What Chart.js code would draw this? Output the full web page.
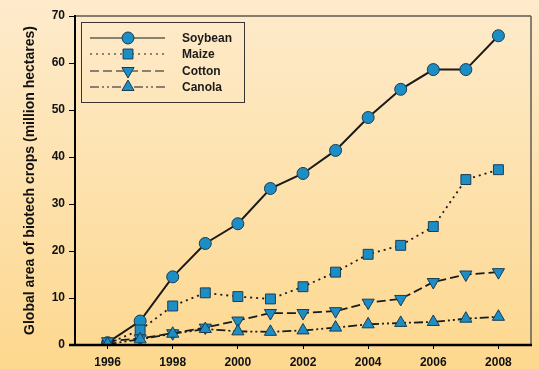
<!DOCTYPE html>
<html>
<head>
<meta charset="utf-8">
<script src="https://cdn.jsdelivr.net/npm/chart.js@4.4.1/dist/chart.umd.min.js"></script>
<style>
  html, body { margin: 0; padding: 0; background: #fde6bb; }
  #wrap { width: 539px; height: 369px; }
</style>
</head>
<body>
<div id="wrap"><canvas id="c" width="539" height="369"></canvas></div>
<script>
// Global area of biotech crops, 1996-2008 (million hectares)
const years = [1996, 1997, 1998, 1999, 2000, 2001, 2002, 2003, 2004, 2005, 2006, 2007, 2008];
const soybean = [0.5, 5.1, 14.5, 21.6, 25.8, 33.3, 36.5, 41.4, 48.4, 54.4, 58.6, 58.6, 65.8];
const maize   = [0.3, 3.2, 8.3, 11.1, 10.3, 9.8, 12.4, 15.5, 19.3, 21.2, 25.2, 35.2, 37.3];
const cotton  = [0.8, 1.4, 2.5, 3.7, 5.2, 6.8, 6.8, 7.2, 9.0, 9.8, 13.4, 15.0, 15.5];
const canola  = [0.2, 1.2, 2.4, 3.4, 2.9, 2.8, 3.1, 3.7, 4.4, 4.7, 4.9, 5.6, 6.0];
const xTickYears = [1996, 1998, 2000, 2002, 2004, 2006, 2008];
const seriesNames = ['Soybean', 'Maize', 'Cotton', 'Canola'];

const MARK = '#1b8ec6';
const MARK_EDGE = '#1d3b52';
const LINE = '#1a1a1a';
const FONT = '"Liberation Sans", Arial, sans-serif';

function pts(vals) { return years.map((y, i) => ({ x: y, y: vals[i] })); }

const styles = [
  { dash: [],                   pointStyle: 'circle',   radius: 6,   rotation: 0 },
  { dash: [2, 4],               pointStyle: 'rect',     radius: 7,   rotation: 0 },
  { dash: [9, 4],               pointStyle: 'triangle', radius: 7,   rotation: 180 },
  { dash: [9, 3, 2, 3, 2, 3],   pointStyle: 'triangle', radius: 7,   rotation: 0 }
];
const values = [soybean, maize, cotton, canola];

const datasets = seriesNames.map((name, i) => ({
  label: name,
  data: pts(values[i]),
  borderColor: LINE,
  borderWidth: i === 0 ? 2 : 1.8,
  borderDash: styles[i].dash,
  pointStyle: styles[i].pointStyle,
  pointRadius: styles[i].radius,
  pointRotation: styles[i].rotation,
  pointBackgroundColor: MARK,
  pointBorderColor: MARK_EDGE,
  pointBorderWidth: 1,
  tension: 0,
  order: 3 - i
}));

// page background gradient
const bgPlugin = {
  id: 'bg',
  beforeDraw(chart) {
    const ctx = chart.ctx;
    const g = ctx.createLinearGradient(0, 0, 0, chart.height);
    g.addColorStop(0, '#feebcc');
    g.addColorStop(1, '#fdd88e');
    ctx.save();
    ctx.fillStyle = g;
    ctx.fillRect(0, 0, chart.width, chart.height);
    ctx.restore();
  }
};

// frame on top/right of the plot and the heavy axis lines
const framePlugin = {
  id: 'frame',
  afterDatasetsDraw(chart) {
    const { ctx, chartArea: a } = chart;
    ctx.save();
    ctx.strokeStyle = '#111';
    ctx.lineWidth = 1.2;
    ctx.beginPath();
    ctx.moveTo(a.left, a.top);
    ctx.lineTo(a.right, a.top);
    ctx.stroke();
    ctx.strokeStyle = '#6a645c';
    ctx.lineWidth = 1.6;
    ctx.beginPath();
    ctx.moveTo(a.right, a.top);
    ctx.lineTo(a.right, a.bottom);
    ctx.stroke();
    ctx.strokeStyle = '#000';
    ctx.lineWidth = 2;
    ctx.beginPath();
    ctx.moveTo(a.left, a.top - 1);
    ctx.lineTo(a.left, a.bottom);
    ctx.stroke();
    ctx.lineWidth = 2.6;
    ctx.beginPath();
    ctx.moveTo(a.left - 6, a.bottom);
    ctx.lineTo(a.right + 1, a.bottom);
    ctx.stroke();
    ctx.restore();
  }
};

// boxed legend with line sample and marker
const legendPlugin = {
  id: 'boxLegend',
  afterDraw(chart) {
    const ctx = chart.ctx;
    const a = chart.chartArea;
    const bx = a.left + 6, by = a.top + 6, bw = 163, bh = 80;
    ctx.save();
    ctx.strokeStyle = '#3a3530';
    ctx.lineWidth = 1;
    ctx.strokeRect(bx + 0.5, by + 0.5, bw, bh);
    const rowY = [38, 54, 71, 87];
    chart.data.datasets.forEach((ds, i) => {
      const y = rowY[i];
      ctx.strokeStyle = ds.borderColor;
      ctx.lineWidth = 1.2;
      ctx.setLineDash(ds.borderDash);
      ctx.beginPath();
      ctx.moveTo(bx + 9, y);
      ctx.lineTo(bx + 84, y);
      ctx.stroke();
      ctx.setLineDash([]);
      ctx.fillStyle = ds.pointBackgroundColor;
      ctx.strokeStyle = ds.pointBorderColor;
      ctx.lineWidth = 1;
      Chart.helpers.drawPoint(ctx, {
        pointStyle: ds.pointStyle,
        rotation: ds.pointRotation,
        radius: ds.pointRadius,
        borderWidth: 1
      }, bx + 47, y);
      ctx.fillStyle = '#1a1a1a';
      ctx.font = 'bold 12px ' + FONT;
      ctx.textBaseline = 'middle';
      ctx.textAlign = 'left';
      ctx.fillText(ds.label, bx + 101, y + 0.5);
    });
    ctx.restore();
  }
};

new Chart(document.getElementById('c'), {
  type: 'line',
  data: { datasets },
  plugins: [bgPlugin, framePlugin, legendPlugin],
  options: {
    responsive: false,
    animation: false,
    events: [],
    layout: { padding: { top: 16, right: 7, left: 0, bottom: 0 } },
    plugins: { legend: { display: false }, tooltip: { enabled: false } },
    scales: {
      x: {
        type: 'linear',
        min: 1995,
        max: 2009,
        afterBuildTicks(scale) { scale.ticks = xTickYears.map(v => ({ value: v })); },
        afterFit(scale) { scale.height = 24; },
        border: { display: false },
        grid: { drawOnChartArea: false, drawTicks: true, tickLength: 4, color: '#000', lineWidth: 1 },
        ticks: {
          color: '#111',
          padding: 6,
          maxRotation: 0,
          autoSkip: false,
          font: { family: FONT, size: 12, weight: 'bold' },
          callback: v => String(v)
        }
      },
      y: {
        min: 0,
        max: 70,
        afterFit(scale) { scale.width = 75; },
        border: { display: false },
        grid: { drawOnChartArea: false, drawTicks: true, tickLength: 6, color: '#000', lineWidth: 1 },
        ticks: {
          stepSize: 10,
          color: '#111',
          padding: 4,
          font: { family: FONT, size: 12, weight: 'bold' }
        },
        title: {
          display: true,
          text: 'Global area of biotech crops (million hectares)',
          color: '#111',
          padding: { top: 22, bottom: 0 },
          font: { family: FONT, size: 14, weight: 'bold' }
        }
      }
    }
  }
});
</script>
</body>
</html>
